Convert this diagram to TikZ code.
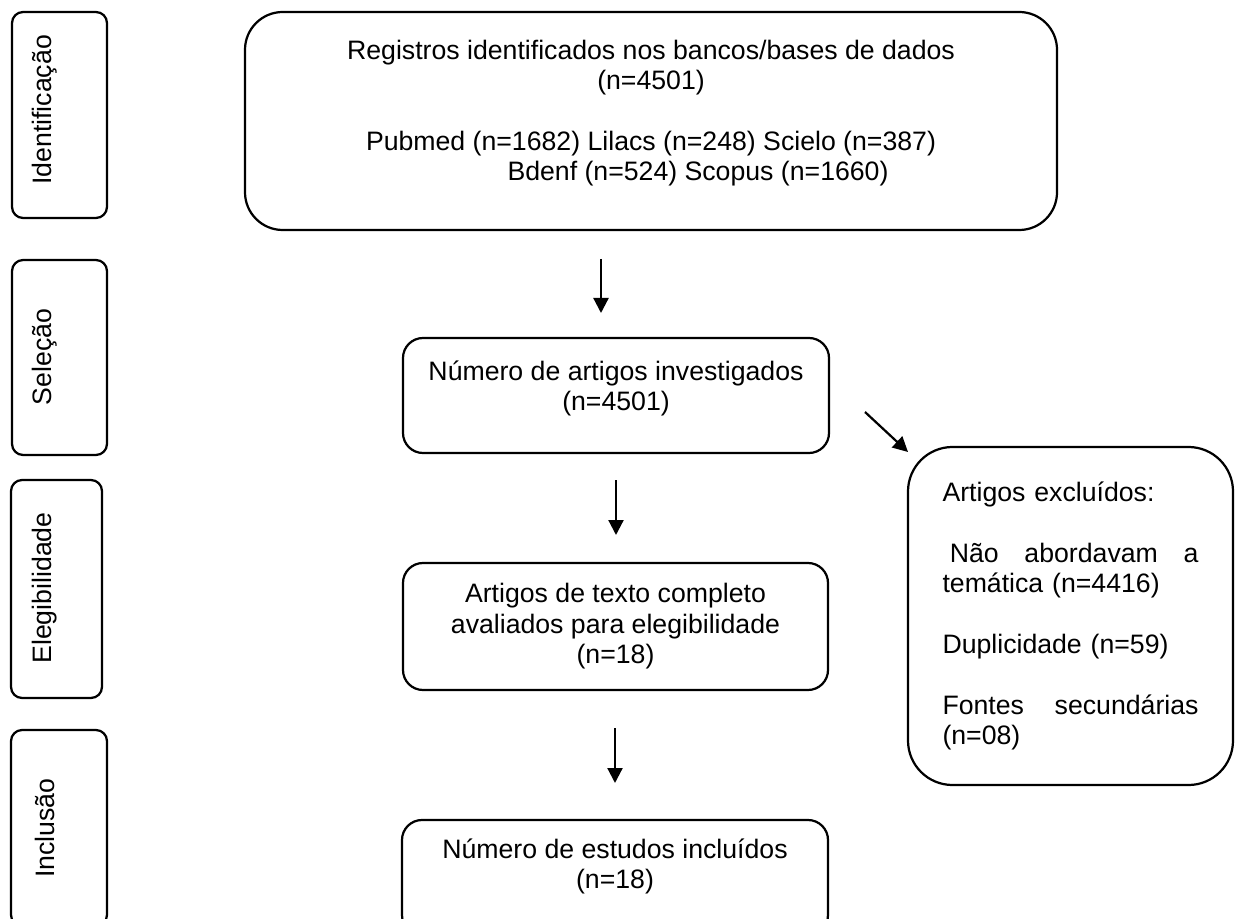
\documentclass[tikz,border=0pt]{standalone}
\usepackage{fontspec}
\setmainfont{Liberation Sans}
\usetikzlibrary{arrows.meta}

\begin{document}
\begin{tikzpicture}[x=0.45pt,y=-0.45pt,
  font={\fontsize{12}{13.7}\selectfont},
  sidebox/.style={draw,line width=1pt,rounded corners=5pt},
  stepbox/.style={draw,line width=1pt,rounded corners=9pt},
  arr/.style={line width=1pt,-{Triangle[length=6.75pt,width=6.75pt]}}]
\useasboundingbox (0,0) rectangle (1235,919);

% fases
\node[sidebox,minimum width=42.75pt,minimum height=92.7pt] (idbox) at (59.5,115) {};
\node[rotate=90] (idtxt) at (44.5,110) {Identificação};
\node[sidebox,minimum width=42.75pt,minimum height=87.75pt] (selbox) at (59.5,357.5) {};
\node[rotate=90] (seltxt) at (44.5,357) {Seleção};
\node[sidebox,minimum width=40.95pt,minimum height=98.1pt] (elegbox) at (56.5,589) {};
\node[rotate=90] (elegtxt) at (44.5,588) {Elegibilidade};
\node[sidebox,minimum width=43.2pt,minimum height=88.2pt] (inclbox) at (59,828) {};
\node[rotate=90] (incltxt) at (44.5,828) {Inclusão};

% caixas
\node[stepbox,rounded corners=17pt,minimum width=365.4pt,minimum height=98.1pt] (reg) at (651,121) {};
\node[align=center] (regtxt) at (651,113) {Registros identificados nos bancos/bases de dados\\(n=4501)\\[13.7pt]Pubmed (n=1682) Lilacs (n=248) Scielo (n=387)\\\hspace*{42.3pt}Bdenf (n=524) Scopus (n=1660)};

\node[stepbox,minimum width=191.7pt,minimum height=51.75pt] (inv) at (616,395.5) {};
\node[align=center] (invtxt) at (616,388.5) {Número de artigos investigados\\(n=4501)};

\node[stepbox,minimum width=191.25pt,minimum height=57.15pt,align=center] (aval) at (615.5,626.5) {Artigos de texto completo\\avaliados para elegibilidade\\(n=18)};

\node[stepbox,minimum width=191.7pt,minimum height=51.75pt] (inc) at (615,877.5) {};
\node[align=center] (inctxt) at (615,866.5) {Número de estudos incluídos\\(n=18)};

\node[stepbox,rounded corners=20pt,minimum width=146.25pt,minimum height=152.1pt,text width=115.2pt,align=left] (excl) at (1070.5,616) {Artigos excluídos:\\[13.7pt]\makebox[115.2pt][l]{\hspace*{3.3pt}Não\hfill abordavam\hfill a}\\temática (n=4416)\\[13.7pt]Duplicidade (n=59)\\[13.7pt]\makebox[115.2pt][l]{Fontes\hfill secundárias}\\(n=08)};

% setas
\coordinate (a1s) at (601,259);
\coordinate (a1e) at (601,313);
\coordinate (a2s) at (616,480);
\coordinate (a2e) at (616,535);
\coordinate (a3s) at (615,728);
\coordinate (a3e) at (615,783);
\coordinate (a4s) at (865,412);
\coordinate (a4e) at (908,452);
\draw[arr] (a1s) -- (a1e);
\draw[arr] (a2s) -- (a2e);
\draw[arr] (a3s) -- (a3e);
\draw[arr] (a4s) -- (a4e);
\end{tikzpicture}
\end{document}
